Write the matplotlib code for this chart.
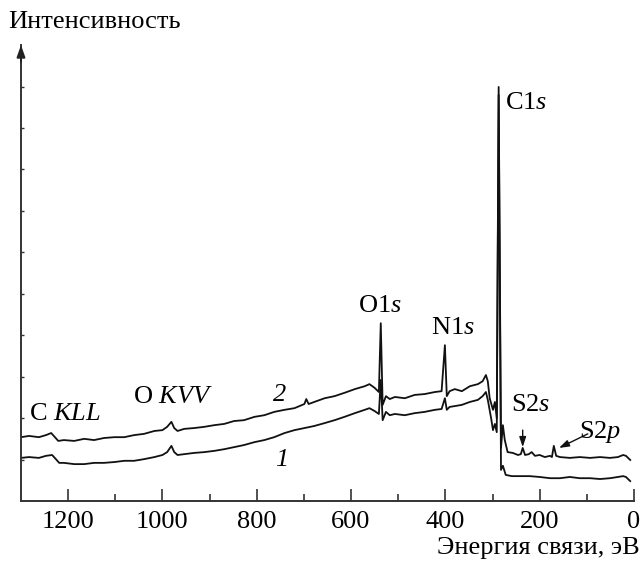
import numpy as np
import matplotlib
matplotlib.use('Agg')
import matplotlib.pyplot as plt

plt.rcParams['font.family'] = 'Liberation Serif'
plt.rcParams['mathtext.fontset'] = 'custom'
plt.rcParams['mathtext.rm'] = 'Liberation Serif'
plt.rcParams['mathtext.it'] = 'Liberation Serif:italic'

# binding energy (eV) and intensity (a.u.)
e2 = [1300, 1283, 1262, 1247, 1236, 1228, 1221, 1209, 1187, 1166, 1145, 1124, 1102, 1081,
      1060, 1039, 1017, 1000, 990, 981, 975, 968, 954, 933, 911, 890, 869, 848, 827, 805,
      784, 763, 741, 720, 699, 695, 690, 678, 656, 635, 614, 592, 571, 561, 550, 541, 537,
      533, 526, 518, 507, 486, 465, 444, 422, 408, 401, 397, 391, 380, 365, 348, 331, 321,
      314, 310, 306, 299, 295, 291, 287, 282, 278, 274, 268, 257, 246, 240, 236, 231, 223,
      217, 210, 200, 189, 178, 174, 170, 165, 157, 136, 115, 93, 72, 51, 34, 23, 17, 8]
i2 = [1.54, 1.57, 1.54, 1.59, 1.64, 1.54, 1.45, 1.47, 1.45, 1.50, 1.47, 1.52, 1.54, 1.54,
      1.59, 1.62, 1.69, 1.71, 1.79, 1.91, 1.76, 1.69, 1.74, 1.76, 1.79, 1.83, 1.86, 1.93, 1.95, 2.03,
      2.07, 2.15, 2.20, 2.24, 2.34, 2.46, 2.34, 2.39, 2.48, 2.53, 2.61, 2.70, 2.77, 2.82, 2.73, 2.63, 4.29,
      2.32, 2.53, 2.46, 2.51, 2.48, 2.56, 2.58, 2.63, 2.65, 3.76, 2.53, 2.65, 2.70, 2.65, 2.77, 2.82, 2.89,
      3.04, 2.89, 2.48, 2.20, 2.39, 2.00, 9.99, 1.28, 1.83, 1.47, 1.18, 1.16, 1.11, 1.13, 1.28, 1.11, 1.13,
      1.18, 1.09, 1.11, 1.06, 1.09, 1.06, 1.33, 1.09, 1.06, 1.04, 1.06, 1.04, 1.06, 1.04, 1.06, 1.11, 1.09, 0.99]

e1 = [1300, 1283, 1262, 1247, 1234, 1226, 1219, 1209, 1187, 1166, 1145, 1124, 1102, 1081,
      1060, 1039, 1017, 1000, 990, 981, 975, 968, 954, 933, 911, 890, 869, 848, 827, 805,
      784, 763, 741, 720, 699, 678, 656, 635, 614, 592, 571, 561, 550, 541, 537,
      533, 526, 518, 507, 486, 465, 444, 422, 408, 401, 397, 391, 380, 365, 348, 331, 321,
      314, 310, 303, 299, 295, 291, 287, 282, 278, 272, 259, 242, 221, 200, 178, 157, 136,
      115, 93, 72, 51, 34, 23, 17, 8]
i1 = [1.04, 1.06, 1.04, 1.09, 1.11, 1.01, 0.92, 0.92, 0.89, 0.89, 0.92, 0.92, 0.94, 0.97,
      0.97, 1.01, 1.06, 1.11, 1.18, 1.33, 1.18, 1.11, 1.13, 1.16, 1.18, 1.21, 1.25, 1.30, 1.35, 1.42,
      1.47, 1.54, 1.64, 1.71, 1.76, 1.81, 1.88, 1.95, 2.03, 2.12, 2.20, 2.24, 2.17, 2.10, 2.92,
      1.95, 2.15, 2.07, 2.10, 2.07, 2.12, 2.15, 2.20, 2.22, 2.48, 2.20, 2.27, 2.29, 2.32, 2.39, 2.44, 2.53,
      2.63, 2.44, 2.00, 1.71, 1.86, 1.66, 9.80, 0.75, 0.85, 0.63, 0.60, 0.60, 0.60, 0.58, 0.55, 0.55, 0.58,
      0.55, 0.55, 0.53, 0.55, 0.58, 0.60, 0.58, 0.48]

fig = plt.figure(figsize=(6.42, 5.64), dpi=100)
ax = fig.add_axes([0.0327, 0.1117, 0.9548, 0.8083])

ax.plot(e2, i2, color='#111111', lw=1.3)
ax.plot(e1, i1, color='#111111', lw=1.3)

ax.set_xlim(1300, 0)
ax.set_ylim(0, 11)
ax.spines['top'].set_visible(False)
ax.spines['right'].set_visible(False)
for s in ['left', 'bottom']:
    ax.spines[s].set_linewidth(1.4)
    ax.spines[s].set_color('#333333')

fs = 19
ax.set_xticks([1200, 1000, 800, 600, 400, 200, 0])
ax.set_xticks([1100, 900, 700, 500, 300, 100], minor=True)
ax.set_yticks(np.arange(1, 11))
ax.set_yticklabels([])
ax.tick_params(axis='x', which='major', direction='in', length=9, width=1.2,
               labelsize=fs, pad=7, color='#333333')
ax.tick_params(axis='x', which='minor', direction='in', length=5, width=1.2, color='#333333')
ax.tick_params(axis='y', direction='in', length=2, width=1, color='#333333')

# arrow on the intensity axis
ax.annotate('', xy=(1300, 11), xytext=(1300, 10.6), annotation_clip=False,
            arrowprops=dict(arrowstyle='-|>,head_length=0.7,head_width=0.25',
                            color='#222222', lw=1.4, shrinkA=0, shrinkB=0))

ax.text(1283, 2.1, r'C $\mathit{KLL}$', fontsize=fs, va='center')
ax.text(1062, 2.5, r'O $\mathit{KVV}$', fontsize=fs, va='center')
ax.text(752, 2.56, '2', fontsize=fs, style='italic', ha='center', va='center')
ax.text(748, 0.99, '1', fontsize=fs, style='italic', ha='center', va='center')
ax.text(540, 4.70, r'O1$\mathit{s}$', fontsize=fs, ha='center', va='center')
ax.text(384, 4.17, r'N1$\mathit{s}$', fontsize=fs, ha='center', va='center')
ax.text(274, 9.60, r'C1$\mathit{s}$', fontsize=fs, va='center')
ax.text(260, 2.32, r'S2$\mathit{s}$', fontsize=fs, va='center')
ax.text(117, 1.66, r'S2$\mathit{p}$', fontsize=fs, va='center')

arrow = dict(arrowstyle='-|>,head_length=0.6,head_width=0.2', color='#111111', lw=1.0,
             shrinkA=0, shrinkB=0)
ax.annotate('', xy=(236, 1.30), xytext=(236, 1.71), arrowprops=arrow)
ax.annotate('', xy=(159, 1.28), xytext=(98, 1.62), arrowprops=arrow)

fig.text(8 / 642, 1 - 22 / 564, 'Интенсивность', fontsize=fs, va='center', ha='left')
fig.text(640 / 642, 1 - 548 / 564, 'Энергия связи, эВ', fontsize=fs, va='center', ha='right')

fig.savefig('out.png', dpi=100)
